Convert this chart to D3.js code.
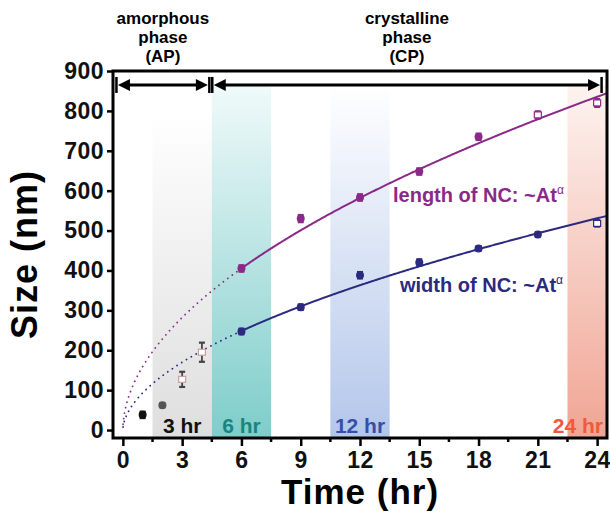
<!DOCTYPE html>
<html>
<head>
<meta charset="utf-8">
<script src="https://cdn.jsdelivr.net/npm/d3@7"></script>
<style>
  body { margin: 0; background: #fff; }
  svg { display: block; font-family: "Liberation Sans", Arial, sans-serif; font-weight: bold; }
</style>
</head>
<body>
<svg id="chart" width="610" height="515"></svg>
<script>
// amorphous phase points
const apTime = [1, 2, 3, 4];
const apSize = [38, 62, 127, 195];
const apErr = [8, 5, 19, 24];

// crystalline phase points
const cpTime = [6, 9, 12, 15, 18, 21, 24];
const lengthSize = [405, 530, 583, 648, 735, 790, 820];
const lengthErr = [8, 9, 8, 8, 8, 9, 10];
const widthSize = [247, 308, 388, 420, 455, 490, 518];
const widthErr = [7, 7, 8, 8, 6, 6, 8];

// power law fits ~A t^alpha
const lengthFit = { A: 159, alpha: 0.522 };
const widthFit = { A: 93, alpha: 0.548 };

const timeTicks = [0, 3, 6, 9, 12, 15, 18, 21, 24];
const timeMinor = [1.5, 4.5, 7.5, 10.5, 13.5, 16.5, 19.5, 22.5];
const sizeTicks = [0, 100, 200, 300, 400, 500, 600, 700, 800, 900];

// shaded time windows
const bandNames = ["3 hr", "6 hr", "12 hr", "24 hr"];
const bandStart = [1.5, 4.5, 10.5, 22.5];
const bandEnd = [4.5, 7.5, 13.5, 24.5];
const bandLabelAt = [3, 6, 12, 24.3];

// phases
const phaseNames = [["amorphous", "phase", "(AP)"], ["crystalline", "phase", "(CP)"]];
const phaseStart = [-0.25, 4.6];
const phaseEnd = [4.3, 24.15];

const purple = "#8a2a88";
const navy = "#2b2a80";
const bandTop = ["#ffffff", "#f0fafa", "#ffffff", "#fdf3f0"];
const bandBottom = ["#dedede", "#7ecdca", "#b3c6ea", "#f0a594"];
const bandText = ["#111111", "#1a8580", "#3450aa", "#f05a3c"];

const svg = d3.select("#chart");
const x = d3.scaleLinear().domain([-0.5, 24.5]).range([113, 607]);
const y = d3.scaleLinear().domain([-20, 900]).range([438, 71]);

// gradients for bands
const defs = svg.append("defs");
bandNames.forEach((n, i) => {
  const g = defs.append("linearGradient")
    .attr("id", "band" + i).attr("x1", 0).attr("y1", 0).attr("x2", 0).attr("y2", 1);
  g.append("stop").attr("offset", "0%").attr("stop-color", bandTop[i]);
  g.append("stop").attr("offset", "100%").attr("stop-color", bandBottom[i]);
});

const bandTopVal = [800, 865, 865, 865];
svg.append("g").selectAll("rect")
  .data(bandNames)
  .join("rect")
  .attr("x", (d, i) => x(bandStart[i]))
  .attr("width", (d, i) => x(bandEnd[i]) - x(bandStart[i]))
  .attr("y", (d, i) => y(bandTopVal[i]))
  .attr("height", (d, i) => y(-20) - y(bandTopVal[i]))
  .attr("fill", (d, i) => "url(#band" + i + ")");

svg.append("g").selectAll("text")
  .data(bandNames)
  .join("text")
  .attr("x", (d, i) => x(bandLabelAt[i]))
  .attr("y", y(-8))
  .attr("text-anchor", (d, i) => i === 3 ? "end" : "middle")
  .attr("font-size", 21)
  .attr("fill", (d, i) => bandText[i])
  .text(d => d);

// fit curves
function fitLine(fit, t0, t1) {
  const ts = d3.range(t0, t1 + 0.001, 0.05);
  return d3.line().x(t => x(t)).y(t => y(fit.A * Math.pow(t, fit.alpha)))(ts);
}
[[lengthFit, purple], [widthFit, navy]].forEach(([fit, c]) => {
  svg.append("path").attr("d", fitLine(fit, 0.01, 6))
    .attr("fill", "none").attr("stroke", c).attr("stroke-width", 1.8)
    .attr("stroke-dasharray", "0.1,5.5").attr("stroke-linecap", "round");
  svg.append("path").attr("d", fitLine(fit, 6, 24.5))
    .attr("fill", "none").attr("stroke", c).attr("stroke-width", 2);
});

// error bar markers
function drawPoints(ts, vs, es, color, markFill, markStroke, barColor) {
  const g = svg.append("g");
  ts.forEach((t, i) => {
    const cx = x(t), v = vs[i], e = es[i];
    const bc = barColor ? barColor(i) : color;
    g.append("line").attr("x1", cx).attr("x2", cx).attr("y1", y(v + e)).attr("y2", y(v - e))
      .attr("stroke", bc).attr("stroke-width", 1.8);
    [v + e, v - e].forEach(ev => {
      g.append("line").attr("x1", cx - 3).attr("x2", cx + 3).attr("y1", y(ev)).attr("y2", y(ev))
        .attr("stroke", bc).attr("stroke-width", 2.2);
    });
    if (markFill(i) === "open") {
      g.append("rect").attr("x", cx - 3.5).attr("y", y(v) - 3).attr("width", 7).attr("height", 6)
        .attr("fill", "#fff").attr("stroke", markStroke(i)).attr("stroke-width", 1.2);
    } else {
      g.append("circle").attr("cx", cx).attr("cy", y(v)).attr("r", 4).attr("fill", markFill(i));
    }
  });
}
drawPoints(apTime, apSize, apErr, "#333",
  i => i === 0 ? "#111" : i === 1 ? "#555" : "open",
  i => "#c9a0a0",
  i => i === 0 ? "#111" : "#444");
drawPoints(cpTime, lengthSize, lengthErr, purple,
  i => i >= 5 ? "open" : purple, i => purple);
drawPoints(cpTime, widthSize, widthErr, navy,
  i => i === 6 ? "open" : navy, i => navy);

// curve labels
function fitLabel(tx, ty, txt, color) {
  const t = svg.append("text").attr("x", tx).attr("y", ty).attr("fill", color).attr("font-size", 20);
  t.append("tspan").text(txt);
  t.append("tspan").attr("font-size", 12).attr("font-weight", "normal").attr("dy", -8).text("α");
}
fitLabel(393, 202, "length of NC: ~At", purple);
fitLabel(400, 292, "width of NC: ~At", navy);

// axes
const yAxis = svg.append("g").attr("transform", "translate(113,0)")
  .call(d3.axisLeft(y).tickValues(sizeTicks).tickSize(6).tickPadding(3));
yAxis.select(".domain").remove();
yAxis.selectAll("line").attr("stroke-width", 2.5);
yAxis.selectAll("text").attr("font-size", 23).attr("letter-spacing", 0.5)
  .attr("font-family", "Liberation Sans, Arial, sans-serif").attr("font-weight", "bold").attr("fill", "#111");

const xAxis = svg.append("g").attr("transform", "translate(0,438)")
  .call(d3.axisBottom(x).tickValues(timeTicks).tickSize(8).tickPadding(6));
xAxis.select(".domain").remove();
xAxis.selectAll("line").attr("stroke-width", 2.5);
xAxis.selectAll("text").attr("font-size", 23).attr("letter-spacing", 0.5)
  .attr("font-family", "Liberation Sans, Arial, sans-serif").attr("font-weight", "bold").attr("fill", "#111");
svg.append("g").selectAll("line").data(timeMinor).join("line")
  .attr("x1", d => x(d)).attr("x2", d => x(d)).attr("y1", 438).attr("y2", 442)
  .attr("stroke", "#000").attr("stroke-width", 2.5);

// frame
svg.append("rect").attr("x", 113).attr("y", 71).attr("width", 494).attr("height", 367)
  .attr("fill", "none").attr("stroke", "#000").attr("stroke-width", 3);

// titles
svg.append("text").attr("x", x(12)).attr("y", 504).attr("text-anchor", "middle")
  .attr("font-size", 35).attr("letter-spacing", 1).text("Time (hr)");
svg.append("text").attr("transform", `translate(37,${(71 + 438) / 2}) rotate(-90)`)
  .attr("text-anchor", "middle").attr("font-size", 36).attr("letter-spacing", 1).text("Size (nm)");

// phase arrows
const arrowY = y(865);
const ag = svg.append("g");
phaseNames.forEach((lines, i) => {
  const a = x(phaseStart[i]), b = x(phaseEnd[i]);
  ag.append("line").attr("x1", a + 8).attr("x2", b - 8).attr("y1", arrowY).attr("y2", arrowY)
    .attr("stroke", "#000").attr("stroke-width", 3);
  ag.append("path").attr("d", `M${a},${arrowY} L${a + 12},${arrowY - 6} L${a + 12},${arrowY + 6} Z`);
  ag.append("path").attr("d", `M${b},${arrowY} L${b - 12},${arrowY - 6} L${b - 12},${arrowY + 6} Z`);
  const cx = (a + b) / 2;
  lines.forEach((ln, k) => {
    svg.append("text").attr("x", cx).attr("y", 24 + k * 19).attr("text-anchor", "middle")
      .attr("font-size", 17).text(ln);
  });
});
[x(phaseStart[0]) - 1.5, x(phaseEnd[0]) + 1.5, x(phaseStart[1]) - 1.5, x(phaseEnd[1]) + 1.5].forEach(bx => {
  ag.append("line").attr("x1", bx).attr("x2", bx).attr("y1", arrowY - 8).attr("y2", arrowY + 8)
    .attr("stroke", "#000").attr("stroke-width", 2.5);
});
</script>
</body>
</html>
